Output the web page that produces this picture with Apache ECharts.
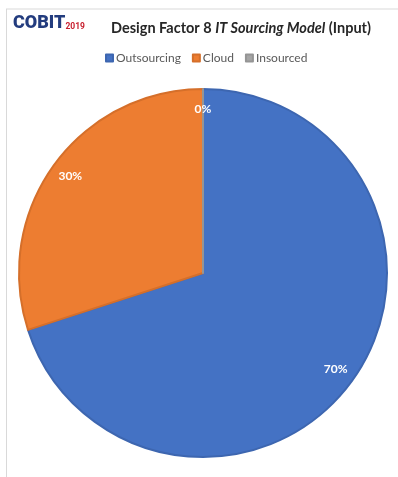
<!DOCTYPE html>
<html>
<head>
<meta charset="utf-8">
<script src="https://cdn.jsdelivr.net/npm/echarts@6/dist/echarts.min.js"></script>
<style>
  html, body { margin: 0; padding: 0; background: #fff; }
  #chart { width: 398px; height: 477px; }
</style>
</head>
<body>
<div id="chart"></div>
<script>
// IT sourcing model shares (percent)
const categories = ['Outsourcing', 'Cloud', 'Insourced'];
const shares = [70, 30, 0];
const sliceColors = ['#4472C4', '#ED7D31', '#A5A5A5'];
const edgeColors = ['#3D66B0', '#D56F2A', '#959595'];

const font = 'Lato, "Open Sans", sans-serif';

const pieData = categories.map((name, i) => ({
  name,
  value: shares[i],
  itemStyle: { color: sliceColors[i], borderColor: edgeColors[i] }
}));

const chart = echarts.init(document.getElementById('chart'), null, { renderer: 'canvas' });

chart.setOption({
  backgroundColor: '#ffffff',
  animation: false,
  title: {
    left: 106,
    top: 16,
    text: '{b|Design Factor 8 }{i|IT Sourcing Model}{b| (Input)}',
    textStyle: {
      rich: {
        b: { fontFamily: font, fontWeight: 'bold', fontSize: 14.5, color: '#262626' },
        i: { fontFamily: font, fontWeight: 'bold', fontStyle: 'italic', fontSize: 14.5, color: '#262626' }
      }
    }
  },
  legend: {
    data: categories,
    top: 47,
    left: 100,
    icon: 'rect',
    itemWidth: 7,
    itemHeight: 7,
    itemGap: 11,
    textStyle: { fontFamily: font, fontSize: 12, color: '#595959', padding: [0, 0, 0, -2] }
  },
  graphic: [
    { type: 'line', shape: { x1: 6, y1: 9, x2: 398, y2: 9 }, style: { stroke: '#D9D9D9', lineWidth: 1 } },
    { type: 'line', shape: { x1: 6.5, y1: 9, x2: 6.5, y2: 477 }, style: { stroke: '#D9D9D9', lineWidth: 1 } },
    {
      type: 'text', left: 13, top: 14,
      style: {
        text: '{c|COBIT}{y|2019}',
        rich: {
          c: { fontFamily: 'Roboto, sans-serif', fontWeight: 900, fontSize: 18, fill: '#233C7E' },
          y: { fontFamily: 'Roboto, sans-serif', fontWeight: 'bold', fontSize: 8.5, fill: '#C8202F', padding: [7, 0, 0, 0] }
        }
      }
    }
  ],
  series: [
    {
      type: 'pie',
      center: [203, 273],
      radius: [0, 184],
      startAngle: 90,
      clockwise: true,
      silent: true,
      label: { show: false },
      labelLine: { show: false },
      itemStyle: { borderWidth: 2 },
      data: pieData
    },
    {
      // transparent twin that only carries the percentage labels
      type: 'pie',
      center: [203, 273],
      radius: [0, 322],
      startAngle: 90,
      clockwise: true,
      silent: true,
      itemStyle: { color: 'rgba(0,0,0,0)', borderWidth: 0 },
      label: {
        show: true,
        position: 'inside',
        formatter: '{d}%',
        fontFamily: font,
        fontWeight: 'bold',
        fontSize: 12,
        color: '#ffffff'
      },
      labelLine: { show: false },
      data: categories.map((name, i) => ({ name, value: shares[i] }))
    }
  ]
});
</script>
</body>
</html>
